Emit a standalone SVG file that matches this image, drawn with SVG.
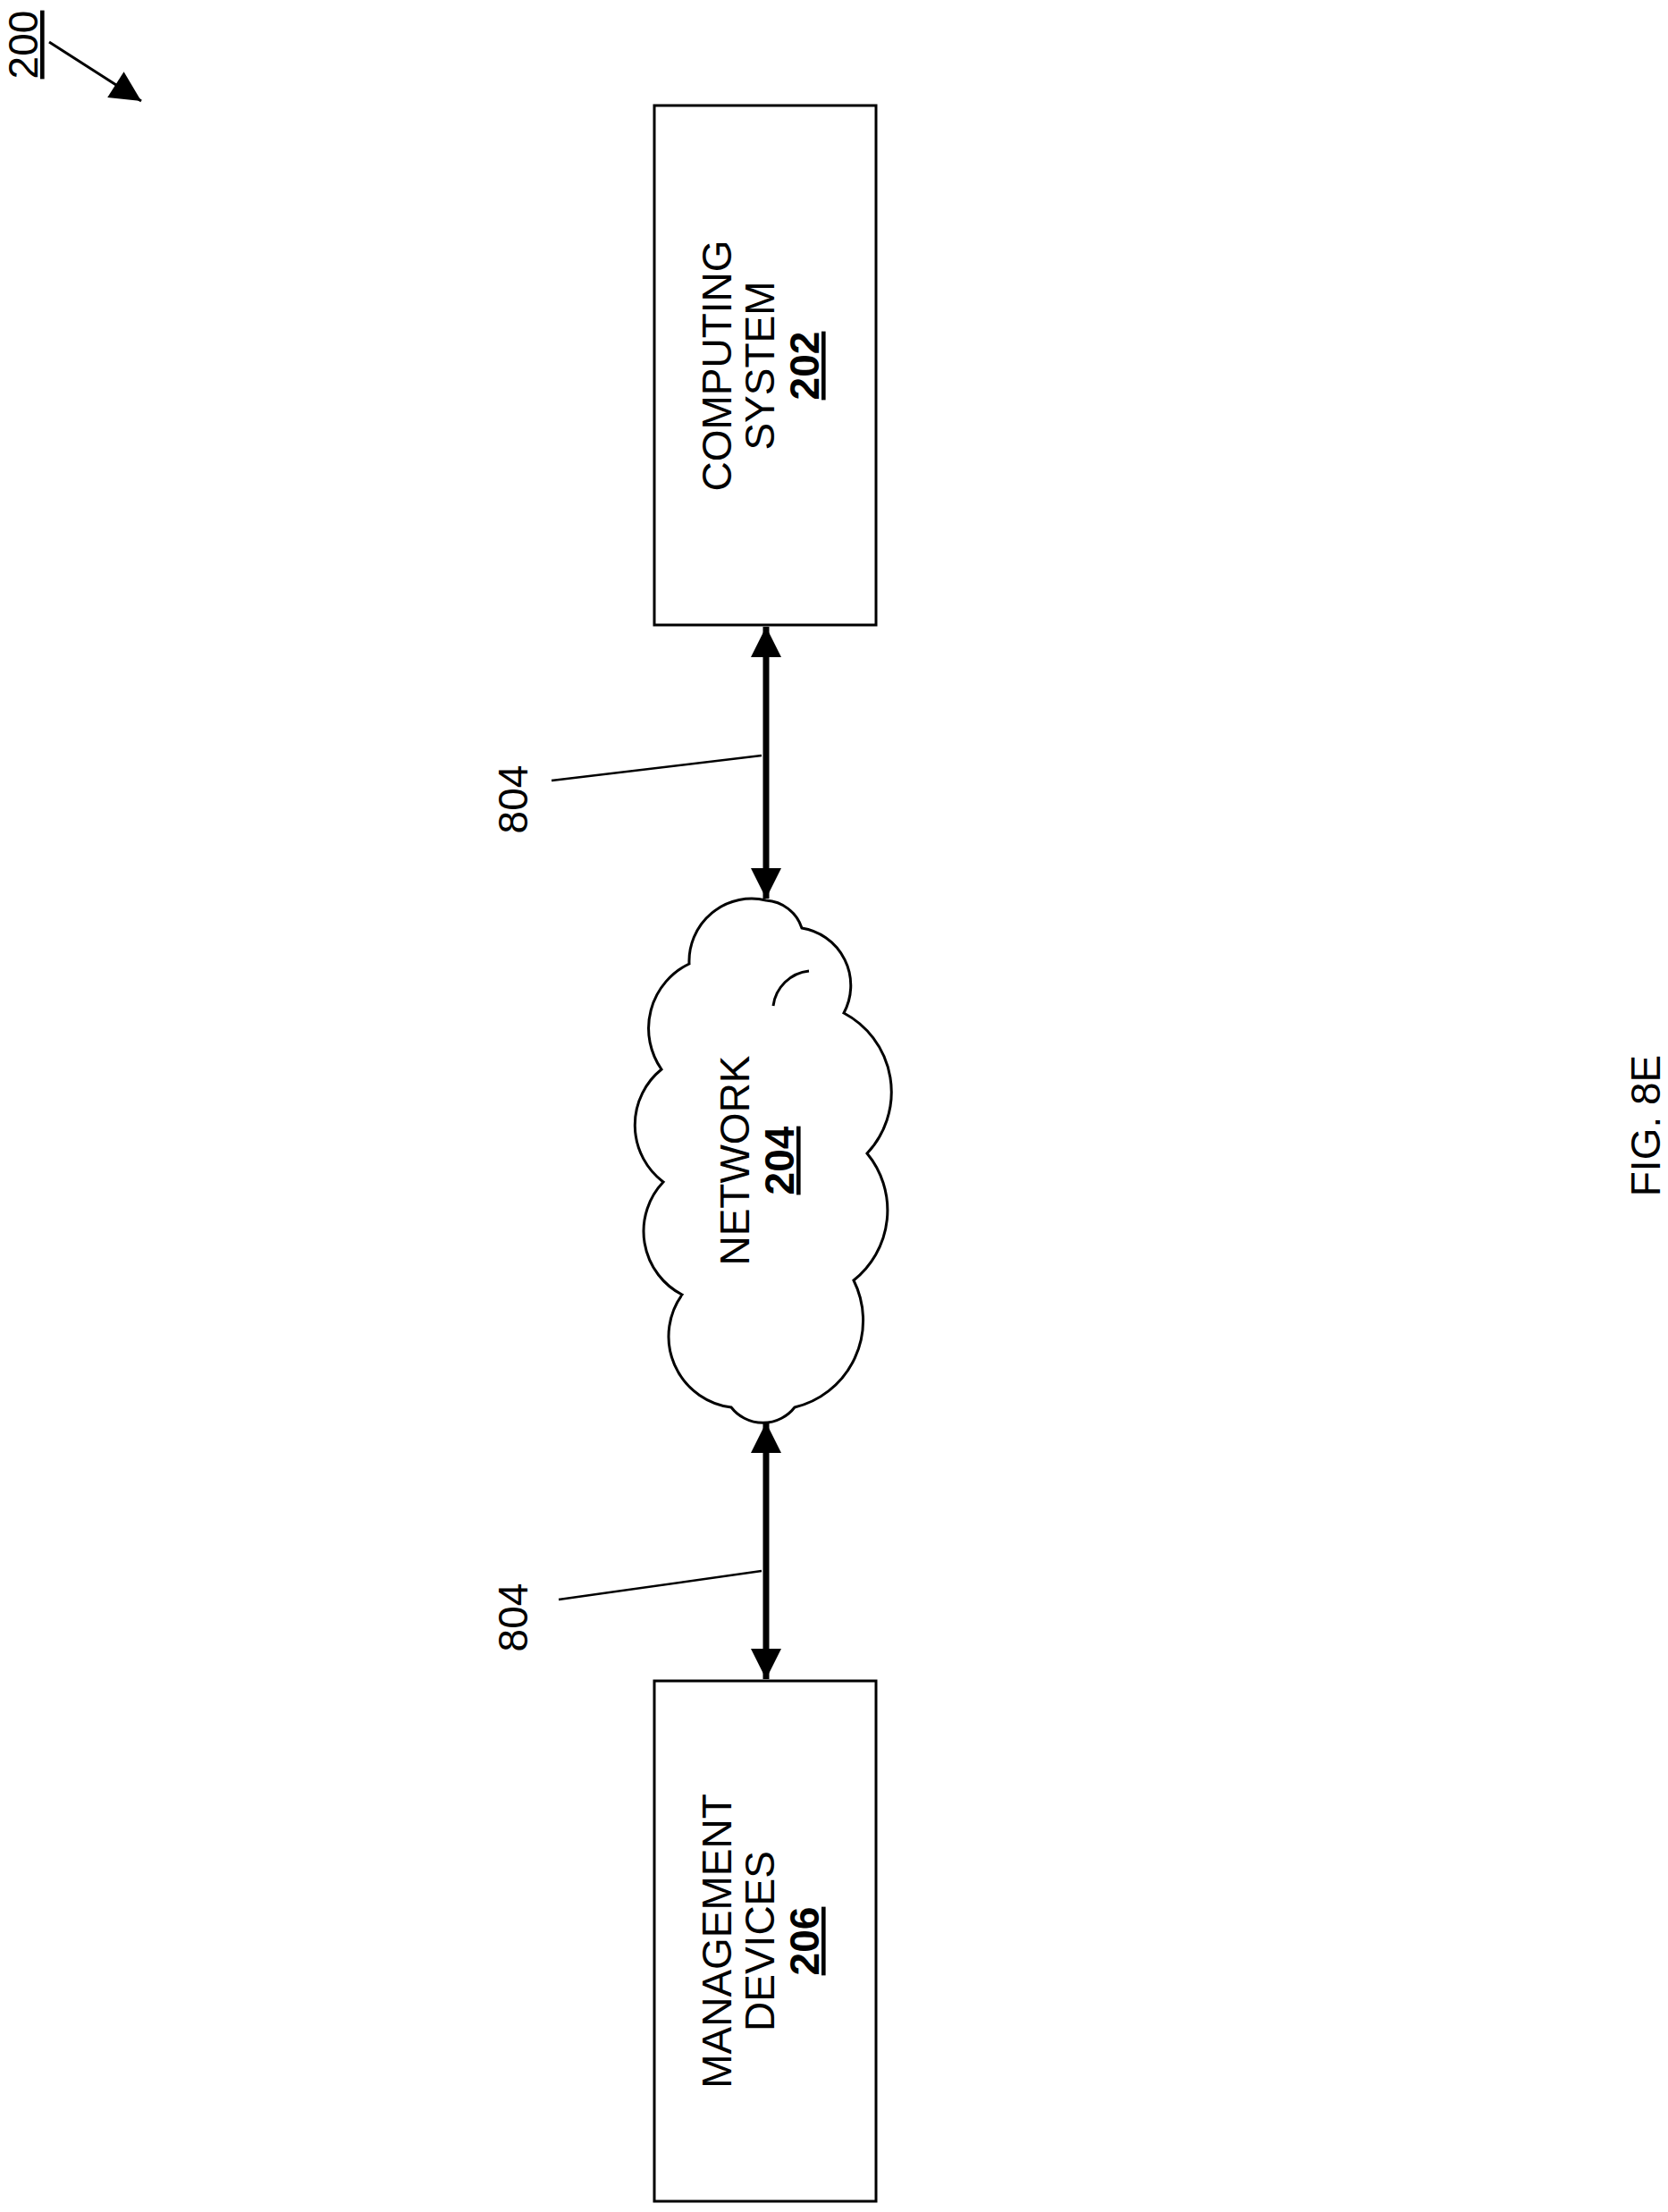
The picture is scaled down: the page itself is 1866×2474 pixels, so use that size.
<svg xmlns="http://www.w3.org/2000/svg" width="1866" height="2474" viewBox="0 0 1866 2474">
<style>
text{font-family:"Liberation Sans",Arial,sans-serif;font-size:46px;fill:#000}
.box{fill:#fff;stroke:#000;stroke-width:3}
.thin{stroke:#000;stroke-width:2.5;fill:none}
.thick{stroke:#000;stroke-width:7;fill:none}
</style>
<defs>
<marker id="big" viewBox="0 0 10 10" refX="10" refY="5" markerWidth="36" markerHeight="34" orient="auto-start-reverse" markerUnits="userSpaceOnUse"><path d="M0,0 L10,5 L0,10 z" fill="#000"/></marker>
</defs>
<g id="label200">
<text transform="translate(42,50) rotate(-90)" text-anchor="middle" text-decoration="underline">200</text>
<line class="thin" x1="55" y1="47" x2="158" y2="113" marker-end="url(#big)" style="stroke-width:3"/>
</g>
<g id="n202">
<rect class="box" x="732" y="118" width="248" height="581"/>
<text transform="translate(818,409) rotate(-90)" text-anchor="middle">COMPUTING</text>
<text transform="translate(866,409) rotate(-90)" text-anchor="middle">SYSTEM</text>
<text transform="translate(916,409) rotate(-90)" text-anchor="middle" font-weight="bold" text-decoration="underline">202</text>
</g>
<g id="n206">
<rect class="box" x="732" y="1880" width="248" height="582"/>
<text transform="translate(818,2171) rotate(-90)" text-anchor="middle">MANAGEMENT</text>
<text transform="translate(866,2171) rotate(-90)" text-anchor="middle">DEVICES</text>
<text transform="translate(916,2171) rotate(-90)" text-anchor="middle" font-weight="bold" text-decoration="underline">206</text>
</g>
<g id="n204">
<path class="box" d="M857,1007 A70,70 0 0 0 771,1078 A80,80 0 0 0 740,1196 A80,80 0 0 0 742,1322 A80,80 0 0 0 763,1448 A80,80 0 0 0 818,1574 A45,45 0 0 0 889,1574 A100,100 0 0 0 955,1432 A100,100 0 0 0 970,1290 A100,100 0 0 0 944,1133 A65,65 0 0 0 897,1038 A45,45 0 0 0 857,1007 Z"/>
<path class="thin" style="stroke-width:3" d="M865,1125 A45,45 0 0 1 905,1086"/>
<text transform="translate(838,1298) rotate(-90)" text-anchor="middle">NETWORK</text>
<text transform="translate(888,1298) rotate(-90)" text-anchor="middle" font-weight="bold" text-decoration="underline">204</text>
</g>
<g id="connectors">
<line class="thick" x1="857" y1="701" x2="857" y2="1005" marker-start="url(#big)" marker-end="url(#big)"/>
<line class="thick" x1="857" y1="1591" x2="857" y2="1878" marker-start="url(#big)" marker-end="url(#big)"/>
<line class="thin" x1="617" y1="873" x2="852" y2="845"/>
<line class="thin" x1="625" y1="1789" x2="852" y2="1757"/>
<text transform="translate(590,894) rotate(-90)" text-anchor="middle">804</text>
<text transform="translate(590,1809) rotate(-90)" text-anchor="middle">804</text>
</g>
<text transform="translate(1857,1259) rotate(-90)" text-anchor="middle">FIG. 8E</text>
</svg>
